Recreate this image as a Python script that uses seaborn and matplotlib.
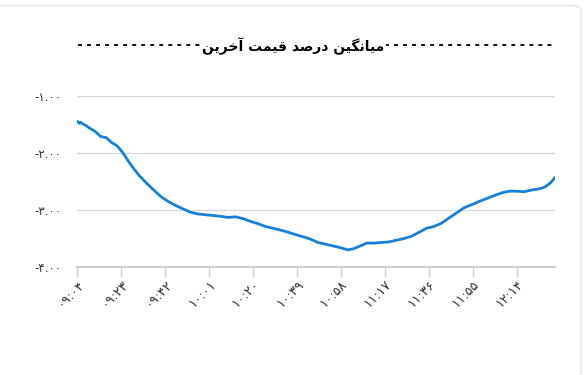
import matplotlib
matplotlib.use("Agg")
import matplotlib.pyplot as plt
import seaborn as sns
import pandas as pd
from matplotlib.patches import FancyBboxPatch

# ---- data (minutes after 09:04, average % of last price) ----
minutes = [0, 1.0, 1.5, 2.9, 4.0, 5.3, 7.8, 10.2, 12.6, 15.1, 17.5, 19.9, 22.3, 24.8, 27.2,
           29.6, 32.9, 36.1, 39.4, 42.6, 45.8, 49.1, 52.3, 57.2, 62.0, 65.3, 68.5,
           71.7, 75.0, 78.2, 81.5, 84.7, 89.6, 94.4, 97.7, 100.9, 104.1, 107.4,
           110.6, 113.8, 117.1, 119.5, 121.9, 125.2, 128.4, 131.7, 134.9, 138.1,
           141.4, 144.6, 147.9, 151.1, 154.3, 157.6, 160.8, 164.1, 167.3, 170.5,
           173.8, 177.0, 180.2, 183.5, 186.7, 190.0, 193.2, 196.4, 199.7, 202.1,
           204.5, 206.6]
values = [-1.44, -1.48, -1.46, -1.50, -1.52, -1.56, -1.62, -1.71, -1.73, -1.82, -1.88, -2.00,
          -2.15, -2.29, -2.41, -2.51, -2.64, -2.76, -2.85, -2.92, -2.98, -3.04,
          -3.07, -3.09, -3.11, -3.13, -3.12, -3.15, -3.20, -3.24, -3.29, -3.32,
          -3.37, -3.43, -3.47, -3.51, -3.57, -3.60, -3.63, -3.66, -3.70, -3.68,
          -3.64, -3.58, -3.58, -3.57, -3.56, -3.53, -3.50, -3.46, -3.39, -3.32,
          -3.29, -3.23, -3.14, -3.05, -2.96, -2.91, -2.85, -2.80, -2.75, -2.70,
          -2.67, -2.67, -2.68, -2.65, -2.63, -2.60, -2.53, -2.43]

x_tick_pos = [0, 19, 38, 57, 76, 95, 114, 133, 152, 171, 190]
x_tick_labels = ["۰۹:۰۴", "۰۹:۲۳", "۰۹:۴۲", "۱۰:۰۱", "۱۰:۲۰", "۱۰:۳۹",
                 "۱۰:۵۸", "۱۱:۱۷", "۱۱:۳۶", "۱۱:۵۵", "۱۲:۱۴"]
y_tick_pos = [-1, -2, -3, -4]
y_tick_labels = ["-۱.۰۰", "-۲.۰۰", "-۳.۰۰", "-۴.۰۰"]
title = "میانگین درصد قیمت آخرین"

# ---- simple Persian shaping (presentation forms, visual order) ----
FORMS = {
    'ا': ('\uFE8D', '\uFE8E', None, None),
    'آ': ('\uFE81', '\uFE82', None, None),
    'د': ('\uFEA9', '\uFEAA', None, None),
    'ر': ('\uFEAD', '\uFEAE', None, None),
    'م': ('\uFEE1', '\uFEE2', '\uFEE3', '\uFEE4'),
    'ی': ('\uFBFC', '\uFBFD', '\uFBFE', '\uFBFF'),
    'ن': ('\uFEE5', '\uFEE6', '\uFEE7', '\uFEE8'),
    'گ': ('\uFB92', '\uFB93', '\uFB94', '\uFB95'),
    'ص': ('\uFEB9', '\uFEBA', '\uFEBB', '\uFEBC'),
    'ق': ('\uFED5', '\uFED6', '\uFED7', '\uFED8'),
    'ت': ('\uFE95', '\uFE96', '\uFE97', '\uFE98'),
    'خ': ('\uFEA5', '\uFEA6', '\uFEA7', '\uFEA8'),
}


def shape(text):
    out = []
    for i, c in enumerate(text):
        if c not in FORMS:
            out.append(c)
            continue
        prev = text[i - 1] if i > 0 else ''
        nxt = text[i + 1] if i + 1 < len(text) else ''
        jp = prev in FORMS and FORMS[prev][2] is not None
        jn = FORMS[c][2] is not None and nxt in FORMS
        f = FORMS[c]
        if jp and jn:
            out.append(f[3])
        elif jp:
            out.append(f[1])
        elif jn:
            out.append(f[2])
        else:
            out.append(f[0])
    return ''.join(reversed(out))


df = pd.DataFrame({"minute": minutes, "value": values})

sns.set_style("white")
plt.rcParams['font.family'] = ['DejaVu Sans']

fig = plt.figure(figsize=(5.87, 3.75), dpi=100)
fig.patch.set_facecolor("white")

# card border
card = FancyBboxPatch((-0.05, -0.05), 1.04, 1.035, boxstyle="round,pad=0,rounding_size=0.015",
                      transform=fig.transFigure, facecolor="none", edgecolor="#e4e4e4",
                      linewidth=1.0, zorder=-5)
fig.patches.append(card)

ax = fig.add_axes([77 / 587, 1 - 267 / 375, (555 - 77) / 587, (267 - 96) / 375])
ax.set_facecolor("none")

sns.lineplot(data=df, x="minute", y="value", ax=ax, color="#1a7fd6", linewidth=2.0)

ax.set_xlim(0, 206.6)
ax.set_ylim(-4, -1)
ax.set_xticks(x_tick_pos)
ax.set_xticklabels(x_tick_labels, rotation=45, ha="right", rotation_mode="anchor",
                   fontsize=9.5, color="#333333")
ax.set_yticks(y_tick_pos)
ax.set_yticklabels(y_tick_labels, fontsize=8.5, color="#333333")
ax.set_xlabel("")
ax.set_ylabel("")

ax.grid(axis="y", color="#d9d9d9", linewidth=1.0)
ax.set_axisbelow(True)
for s in ["top", "right", "left"]:
    ax.spines[s].set_visible(False)
ax.spines["bottom"].set_color("#cfcfcf")
ax.spines["bottom"].set_linewidth(1.5)
ax.tick_params(axis="x", length=7, color="#cfcfcf", width=1, pad=1, direction="out", bottom=True)
ax.tick_params(axis="y", length=0, pad=11)

# title with dotted rule
fig.add_artist(plt.Line2D([77.5 / 587, 554 / 587], [1 - 44.5 / 375] * 2, transform=fig.transFigure,
                          color="black", linewidth=1.3, linestyle=(0, (2.2, 2.8))))
fig.text(293 / 587, 1 - 46 / 375, shape(title), ha="center", va="center", fontsize=10,
         fontweight="bold", color="black",
         bbox=dict(facecolor="white", edgecolor="none", pad=1.5))

fig.savefig("out.png", dpi=100, facecolor="white")
